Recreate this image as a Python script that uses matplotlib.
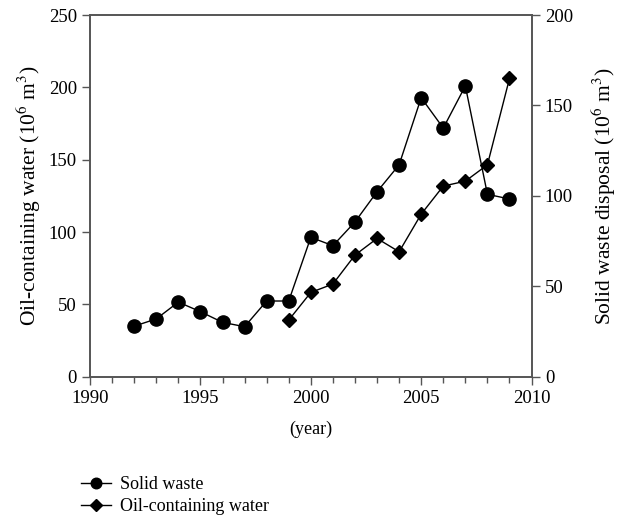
import matplotlib
matplotlib.use("Agg")
import matplotlib.pyplot as plt
from matplotlib.ticker import MultipleLocator

plt.rcParams["font.family"] = ["Liberation Serif", "DejaVu Serif"]
plt.rcParams["mathtext.fontset"] = "stix"

# solid waste disposal (right axis)
years_solid = [1992, 1993, 1994, 1995, 1996, 1997, 1998, 1999, 2000,
               2001, 2002, 2003, 2004, 2005, 2006, 2007, 2008, 2009]
solid_waste = [28.0, 32.0, 41.3, 36.0, 30.1, 27.7, 41.9, 41.9, 77.1,
               72.5, 85.6, 102.3, 117.2, 154.3, 137.5, 160.8, 100.9, 98.3]

# oil-containing water (left axis)
years_oil = [1999, 2000, 2001, 2002, 2003, 2004, 2005, 2006, 2007, 2008, 2009]
oil_water = [39.2, 58.3, 64.1, 84.1, 95.6, 86.4, 112.4, 131.8, 135.2, 146.5, 206.2]

axis_col = "#555555"
fs = 13
tick_fs = 13.5
label_fs = 15.5

fig = plt.figure(figsize=(6.21, 5.19), dpi=100)
ax = fig.add_axes([0.145, 0.274, 0.711, 0.697])
ax2 = ax.twinx()

ax2.plot(years_solid, solid_waste, color="black", lw=1.0, marker="o",
         markersize=9.5, label="Solid waste")
ax.plot(years_oil, oil_water, color="black", lw=1.0, marker="D",
        markersize=7.5, label="Oil-containing water")

ax.set_xlim(1990, 2010)
ax.set_ylim(0, 250)
ax2.set_ylim(0, 200)
ax.xaxis.set_major_locator(MultipleLocator(5))
ax.xaxis.set_minor_locator(MultipleLocator(1))
ax.yaxis.set_major_locator(MultipleLocator(50))
ax2.yaxis.set_major_locator(MultipleLocator(50))

for a in (ax, ax2):
    for s in a.spines.values():
        s.set_color(axis_col)
        s.set_linewidth(1.2)
    a.tick_params(which="both", direction="out", color=axis_col,
                  labelsize=tick_fs, width=1.0)
    a.tick_params(which="major", length=6)
    a.tick_params(which="minor", length=4)

ax.set_xlabel("(year)", fontsize=fs, labelpad=10)
ax.set_ylabel("Oil-containing water (10$^6$ m$^3$)", fontsize=label_fs, labelpad=4)
ax2.set_ylabel("Solid waste disposal (10$^6$ m$^3$)", fontsize=label_fs, labelpad=12)

h2, l2 = ax2.get_legend_handles_labels()
h1, l1 = ax.get_legend_handles_labels()
fig.legend(h2 + h1, l2 + l1, loc="upper left", bbox_to_anchor=(0.118, 0.097),
           frameon=False, fontsize=fs, handlelength=1.7, handletextpad=0.5,
           labelspacing=0.3, borderaxespad=0, markerscale=0.8)

fig.savefig("out.png", dpi=100)
